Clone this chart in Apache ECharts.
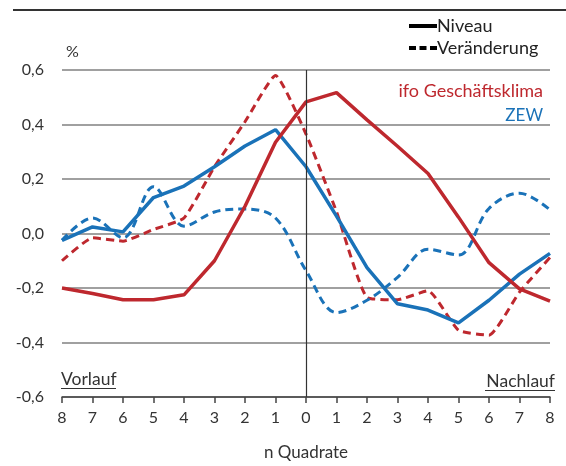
<!DOCTYPE html>
<html lang="de">
<head>
  <meta charset="UTF-8">
  <title>ifo Geschäftsklima und ZEW</title>
  <script src="https://cdn.jsdelivr.net/npm/echarts@6/dist/echarts.min.js"></script>
  <style>
    html, body { margin: 0; padding: 0; background: #fff; }
    #chart { width: 566px; height: 466px; }
  </style>
</head>
<body>
  <div id="chart"></div>
  <script>
    // Quartale vor (Vorlauf) und nach (Nachlauf) dem Wendepunkt
    var quarters = ['8', '7', '6', '5', '4', '3', '2', '1', '0', '1', '2', '3', '4', '5', '6', '7', '8'];
    var yTicks = [-0.6, -0.4, -0.2, 0.0, 0.2, 0.4, 0.6];

    var ifoLevel = [-0.20, -0.22, -0.243, -0.243, -0.225, -0.10, 0.10, 0.335, 0.483, 0.517, 0.417, 0.32, 0.22, 0.06, -0.107, -0.203, -0.248];
    var ifoChange = [-0.10, -0.016, -0.028, 0.015, 0.057, 0.245, 0.41, 0.58, 0.365, 0.08, -0.235, -0.243, -0.21, -0.355, -0.373, -0.215, -0.088];
    var zewLevel = [-0.025, 0.024, 0.006, 0.132, 0.174, 0.245, 0.321, 0.381, 0.245, 0.064, -0.125, -0.258, -0.281, -0.328, -0.245, -0.149, -0.073];
    var zewChange = [-0.025, 0.057, -0.016, 0.172, 0.027, 0.079, 0.09, 0.057, -0.136, -0.29, -0.245, -0.161, -0.058, -0.079, 0.092, 0.148, 0.087];

    var RED = '#be282e';
    var BLUE = '#1a72b8';
    var TEXT = '#333';
    var FONT = 'Lato';

    // Legendensymbole: durchgezogen / gestrichelt
    var solidIcon = 'path://M0,0h28v4h-28z';
    var dashIcon = 'path://M0,0h7v4h-7zM10.5,0h7v4h-7zM21,0h7v4h-7z';

    var chart = echarts.init(document.getElementById('chart'));

    chart.setOption({
      animation: false,
      textStyle: { fontFamily: FONT },
      grid: { left: 62, right: 16, top: 70, bottom: 65 },
      legend: {
        orient: 'vertical',
        left: 404,
        top: 12,
        itemWidth: 28,
        itemHeight: 4,
        itemGap: 4,
        selectedMode: false,
        textStyle: { fontSize: 18, color: '#222', padding: [0, 0, 0, -5] },
        data: [
          { name: 'Niveau', icon: solidIcon },
          { name: 'Veränderung', icon: dashIcon }
        ]
      },
      xAxis: {
        type: 'category',
        data: quarters,
        boundaryGap: false,
        name: 'n Quadrate',
        nameLocation: 'middle',
        nameGap: 47,
        nameTextStyle: { fontSize: 17, color: TEXT },
        axisLine: { onZero: false, lineStyle: { color: '#444', width: 1.5 } },
        axisTick: { length: 6, lineStyle: { color: '#444', width: 1.5 }, alignWithLabel: true },
        axisLabel: { fontSize: 16, color: TEXT, margin: 13 },
        splitLine: { show: false }
      },
      yAxis: {
        type: 'value',
        min: -0.6,
        max: 0.6,
        interval: 0.2,
        axisLine: { show: false },
        axisTick: { show: false },
        axisLabel: {
          fontSize: 16,
          color: TEXT,
          margin: 18,
          formatter: function (v) {
            var t = yTicks.find(function (y) { return Math.abs(y - v) < 1e-6; });
            return (t === undefined ? v : t).toFixed(1).replace('.', ',');
          }
        },
        splitLine: { lineStyle: { color: '#808080', width: 1.6 } }
      },
      graphic: [
        // obere Rahmenlinie
        { type: 'line', shape: { x1: 13, y1: 10, x2: 566, y2: 10 }, style: { stroke: '#333', lineWidth: 2 } },
        { type: 'text', left: 66, top: 44, style: { text: '%', fontSize: 16, fill: TEXT, fontFamily: FONT } },
        { type: 'text', right: 23, top: 82, style: { text: 'ifo Geschäftsklima', fontSize: 18, fill: RED, fontFamily: FONT } },
        { type: 'text', right: 23, top: 107, style: { text: 'ZEW', fontSize: 17, fill: BLUE, fontFamily: FONT } },
        { type: 'text', left: 61, top: 370, style: { text: 'Vorlauf', fontSize: 17.5, fill: TEXT, fontFamily: FONT } },
        { type: 'line', shape: { x1: 61, y1: 388.5, x2: 116, y2: 388.5 }, style: { stroke: TEXT, lineWidth: 1 } },
        { type: 'text', right: 11, top: 372, style: { text: 'Nachlauf', fontSize: 17.5, fill: TEXT, fontFamily: FONT } },
        { type: 'line', shape: { x1: 485, y1: 390.5, x2: 555, y2: 390.5 }, style: { stroke: TEXT, lineWidth: 1 } }
      ],
      series: [
        // nur für die Legende
        { name: 'Niveau', type: 'line', data: [], symbol: 'none', color: '#000' },
        { name: 'Veränderung', type: 'line', data: [], symbol: 'none', color: '#000' },
        {
          name: 'ifo Veränderung', type: 'line', data: ifoChange, symbol: 'none', smooth: 0.15,
          lineStyle: { color: RED, width: 3, type: [8, 5] },
          markLine: {
            silent: true, symbol: 'none', label: { show: false },
            lineStyle: { color: '#333', width: 1.2, type: 'solid' },
            data: [{ xAxis: 8 }]
          }
        },
        {
          name: 'ZEW Veränderung', type: 'line', data: zewChange, symbol: 'none', smooth: 0.35,
          lineStyle: { color: BLUE, width: 3, type: [8, 5] }
        },
        {
          name: 'ZEW Niveau', type: 'line', data: zewLevel, symbol: 'none',
          lineStyle: { color: BLUE, width: 3.5 }
        },
        {
          name: 'ifo Niveau', type: 'line', data: ifoLevel, symbol: 'none',
          lineStyle: { color: RED, width: 3.5 }
        }
      ]
    });
  </script>
</body>
</html>
